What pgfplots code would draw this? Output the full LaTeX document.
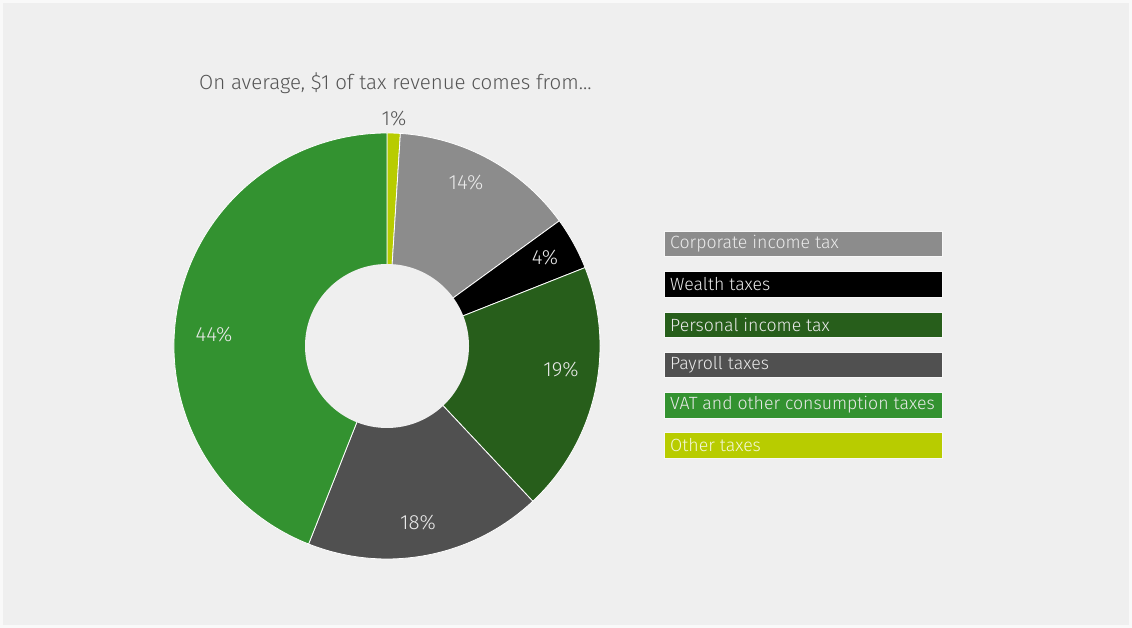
\documentclass[border=0pt]{standalone}
\usepackage{pgfplots}
\pgfplotsset{compat=1.18}
\usepackage{fontspec}
\setmainfont{Fira Sans}[UprightFont=* Light]
\definecolor{bg}{HTML}{EFEFEF}
\definecolor{cCorp}{HTML}{8C8C8C}
\definecolor{cWealth}{HTML}{000000}
\definecolor{cPers}{HTML}{275E1B}
\definecolor{cPay}{HTML}{505050}
\definecolor{cVAT}{HTML}{339230}
\definecolor{cOther}{HTML}{B8CC00}
\definecolor{tgrey}{HTML}{555555}
\definecolor{tlight}{HTML}{EAEAEA}
% shares in percent
\def\pOther{1}
\def\pCorp{14}
\def\pWealth{4}
\def\pPers{19}
\def\pPay{18}
\def\pVAT{44}
\pgfmathsetmacro\aA{90}
\pgfmathsetmacro\aB{\aA-3.6*\pOther}
\pgfmathsetmacro\aC{\aB-3.6*\pCorp}
\pgfmathsetmacro\aD{\aC-3.6*\pWealth}
\pgfmathsetmacro\aE{\aD-3.6*\pPers}
\pgfmathsetmacro\aF{\aE-3.6*\pPay}
\pgfmathsetmacro\aG{\aF-3.6*\pVAT}
\def\R{213pt}
\begin{document}
\begin{tikzpicture}
\fill[bg] (0,0) rectangle (1132pt,628pt);
\draw[white!60!bg, line width=3pt] (1.5pt,1.5pt) rectangle (1130.5pt,626.5pt);
\begin{axis}[x=1pt, y=1pt, xmin=0, xmax=1132, ymin=0, ymax=628,
  hide axis, clip=false, anchor=origin, at={(0,0)}]
\addplot[fill=cOther, draw=white, line width=0.8pt] coordinates {(387,282)} -- ++(\aA:\R) arc[start angle=\aA, end angle=\aB, radius=\R] -- cycle;
\addplot[fill=cCorp, draw=white, line width=0.8pt] coordinates {(387,282)} -- ++(\aB:\R) arc[start angle=\aB, end angle=\aC, radius=\R] -- cycle;
\addplot[fill=cWealth, draw=white, line width=0.8pt] coordinates {(387,282)} -- ++(\aC:\R) arc[start angle=\aC, end angle=\aD, radius=\R] -- cycle;
\addplot[fill=cPers, draw=white, line width=0.8pt] coordinates {(387,282)} -- ++(\aD:\R) arc[start angle=\aD, end angle=\aE, radius=\R] -- cycle;
\addplot[fill=cPay, draw=white, line width=0.8pt] coordinates {(387,282)} -- ++(\aE:\R) arc[start angle=\aE, end angle=\aF, radius=\R] -- cycle;
\addplot[fill=cVAT, draw=white, line width=0.8pt] coordinates {(387,282)} -- ++(\aF:\R) arc[start angle=\aF, end angle=\aG, radius=\R] -- cycle;
\fill[bg] (axis cs:387,282) circle[radius=82pt];
% title
\node[anchor=base west, text=tgrey, font=\fontsize{20.5}{24}\selectfont, inner sep=0pt] at (axis cs:199,538) {On average, \$1 of tax revenue comes from...};
% slice labels
\begin{scope}[every node/.style={text=tlight, font=\fontsize{20.5}{24}\selectfont, inner sep=0pt}]
\node at (axis cs:466,445) {14\%};
\node at (axis cs:545,370) {4\%};
\node at (axis cs:561,258) {19\%};
\node at (axis cs:418,105) {18\%};
\node at (axis cs:214,293) {44\%};
\end{scope}
\node[text=tgrey, font=\fontsize{20.5}{24}\selectfont, inner sep=0pt] at (axis cs:394,509) {1\%};
% legend
\begin{scope}[every node/.style={anchor=west, font=\fontsize{17.7}{20}\selectfont, inner sep=0pt}]
\fill[cCorp, draw=white!50!bg] (axis cs:664,397) rectangle (axis cs:942,372);
\node[text=tlight] at (axis cs:670,384.5) {Corporate income tax};
\fill[cWealth, draw=white!50!bg] (axis cs:664,357) rectangle (axis cs:942,331);
\node[text=tlight] at (axis cs:670,344) {Wealth taxes};
\fill[cPers, draw=white!50!bg] (axis cs:664,316) rectangle (axis cs:942,291);
\node[text=tlight] at (axis cs:670,303.5) {Personal income tax};
\fill[cPay, draw=white!50!bg] (axis cs:664,276) rectangle (axis cs:942,251);
\node[text=tlight] at (axis cs:670,263.5) {Payroll taxes};
\fill[cVAT, draw=white!50!bg] (axis cs:664,236) rectangle (axis cs:942,210);
\node[text=tlight] at (axis cs:670,223) {VAT and other consumption taxes};
\fill[cOther, draw=white!50!bg] (axis cs:664,196) rectangle (axis cs:942,170);
\node[text=white!85!cOther] at (axis cs:670,183) {Other taxes};
\end{scope}
\end{axis}
\end{tikzpicture}
\end{document}
